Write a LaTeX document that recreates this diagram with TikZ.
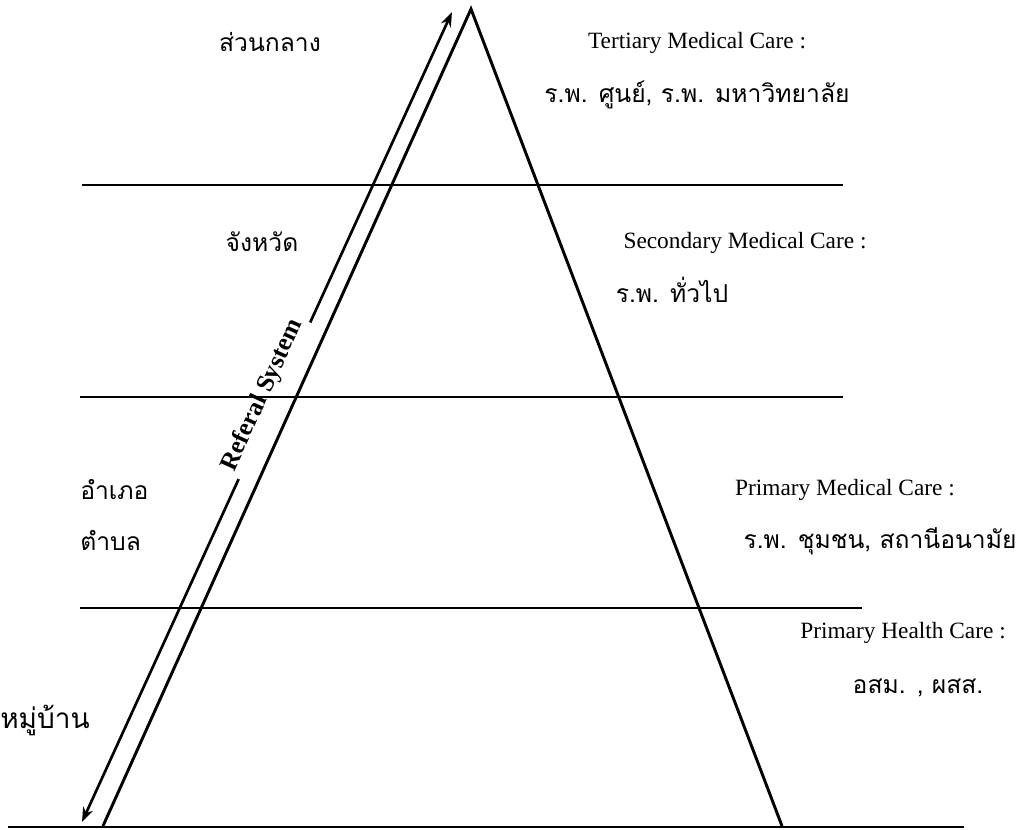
\documentclass[tikz,border=0pt]{standalone}
\usepackage{fontspec}
\setmainfont{Liberation Serif}
\newfontfamily\thaifont[Script=Thai]{Loma}
\usetikzlibrary{arrows.meta}

\begin{document}
\begin{tikzpicture}[x=0.75pt,y=-0.75pt,>={Stealth[length=11pt,width=8pt]},
 side/.style={line width=2.2pt},
 level/.style={line width=2pt},
 thai/.style={font=\thaifont\fontsize{18.5}{22}\selectfont,inner sep=0pt},
 care/.style={font=\fontsize{17.5}{20}\selectfont,inner sep=0pt}]
\useasboundingbox (0,0) rectangle (1027,829);
% referal arrow
\coordinate (refB) at (82,822);
\coordinate (refT) at (452,12);
\draw[<->,line width=2pt] (refB) -- node[sloped,pos=0.52,above=-3pt,fill=white,inner sep=3pt,
 font=\bfseries\fontsize{19}{22}\selectfont] (ref) {Referal System} (refT);
% pyramid
\coordinate (apex) at (471,9);
\coordinate (footL) at (103,826);
\coordinate (footR) at (782,826);
\draw[side] (footL) -- (apex) -- (footR);
% levels
\coordinate (l1a) at (82,185);  \coordinate (l1b) at (843,185);
\coordinate (l2a) at (80,397);  \coordinate (l2b) at (843,397);
\coordinate (l3a) at (80,608);  \coordinate (l3b) at (862,608);
\coordinate (l4a) at (8,827);   \coordinate (l4b) at (964,827);
\draw[level] (l1a) -- (l1b);
\draw[level] (l2a) -- (l2b);
\draw[level] (l3a) -- (l3b);
\draw[level] (l4a) -- (l4b);
% left side
\node[thai] (central) at (270,42) {ส่วนกลาง};
\node[thai] (province) at (262,242) {จังหวัด};
\node[thai,anchor=west] (district) at (80,490) {อำเภอ};
\node[thai,anchor=west] (subdist) at (80,541) {ตำบล};
\node[thai,anchor=west,font=\thaifont\fontsize{21}{24}\selectfont] (village) at (0,720) {หมู่บ้าน};
% right side
\node[care] (tert) at (697,43) {Tertiary Medical Care :};
\node[thai] (tertH) at (697,95) {ร.พ. ศูนย์, ร.พ. มหาวิทยาลัย};
\node[care] (sec) at (745,243) {Secondary Medical Care :};
\node[thai] (secH) at (672,290) {ร.พ. ทั่วไป};
\node[care] (prim) at (845,490) {Primary Medical Care :};
\node[thai] (primH) at (880,541) {ร.พ. ชุมชน, สถานีอนามัย};
\node[care] (phc) at (903,633) {Primary Health Care :};
\node[thai] (phcH) at (918,688) {อสม. , ผสส.};
\end{tikzpicture}
\end{document}
